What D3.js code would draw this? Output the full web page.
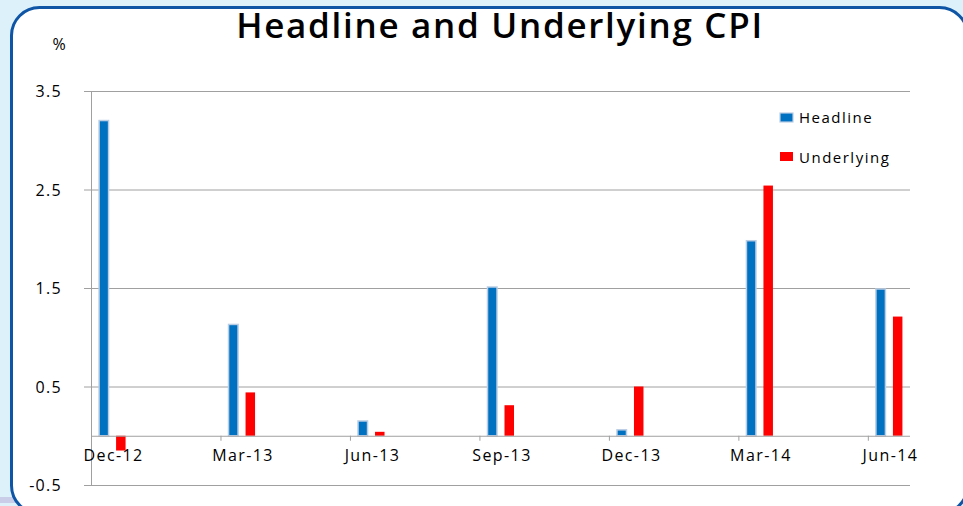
<!DOCTYPE html>
<meta charset="utf-8">
<title>Headline and Underlying CPI</title>
<script src="https://d3js.org/d3.v7.min.js"></script>
<style>
  body { margin: 0; background: #ddf1fa; }
  svg { display: block; }
  text { font-family: "Open Sans", sans-serif; fill: #000; }
  .title { font-size: 35px; font-weight: 600; letter-spacing: 1.7px; text-anchor: middle; }
  .ylab text { font-size: 16px; letter-spacing: 1.3px; }
  .xlab { font-size: 16px; letter-spacing: 1.4px; }
  .legend text { font-size: 15px; letter-spacing: 1.5px; }
</style>
<body>
<div id="chart"></div>
<script>
  // quarters on the axis, as month offsets from Dec-12
  var categories = ["Dec-12", "Mar-13", "Jun-13", "Sep-13", "Dec-13", "Mar-14", "Jun-14"];
  var monthIndex = [0, 3, 6, 9, 12, 15, 18];
  var headline = [3.20, 1.13, 0.15, 1.51, 0.06, 1.98, 1.49];
  var underlying = [-0.15, 0.44, 0.04, 0.31, 0.50, 2.54, 1.21];
  var yTicks = [3.5, 2.5, 1.5, 0.5, -0.5];
  var seriesNames = ["Headline", "Underlying"];
  var seriesColors = ["#0070c0", "#ff0000"];

  var W = 963, H = 506;
  var svg = d3.select("#chart").append("svg")
      .attr("width", W)
      .attr("height", H);

  // white panel with rounded blue frame
  svg.append("rect")
      .attr("x", 0).attr("y", 497).attr("width", 20).attr("height", 6)
      .attr("fill", "#c9cde8");
  svg.append("rect")
      .attr("x", 11.5).attr("y", 7.5)
      .attr("width", 956).attr("height", 506)
      .attr("rx", 28).attr("ry", 28)
      .attr("fill", "#fff")
      .attr("stroke", "#0e55a6")
      .attr("stroke-width", 3);

  var pLeft = 91, pRight = 910, pTop = 91, pBottom = 485;

  var x = d3.scaleLinear().domain([0, 19]).range([pLeft, 911]);
  var y = d3.scaleLinear().domain([-0.5, 3.5]).range([pBottom, pTop]);
  var monthW = x(1) - x(0);

  // gridlines + y labels
  var yAxis = svg.append("g").attr("class", "ylab")
      .attr("transform", "translate(" + pLeft + ",0)")
      .call(d3.axisLeft(y).tickValues(yTicks).tickFormat(function(d) { return d3.format(".1f")(d).replace("\u2212", "-"); })
        .tickSize(7).tickPadding(22));
  yAxis.select(".domain").remove();
  yAxis.selectAll(".tick line").attr("stroke", "#a0a0a0");
  yAxis.selectAll(".tick").append("line")
      .attr("x1", 0).attr("x2", pRight - pLeft)
      .attr("stroke", "#a0a0a0");
  yAxis.selectAll(".tick text").attr("fill", "#000").attr("dy", "0.35em");

  // vertical axis line
  svg.append("line")
      .attr("x1", pLeft + 0.5).attr("x2", pLeft + 0.5)
      .attr("y1", pTop).attr("y2", pBottom)
      .attr("stroke", "#a0a0a0");

  // bars
  var rows = categories.map(function(c, i) {
    return { cat: c, m: monthIndex[i], vals: [headline[i], underlying[i]] };
  });
  var barW = 9.5;
  var offs = [-13.5, 3.5];

  var groups = svg.append("g").selectAll("g")
      .data(rows).enter().append("g")
      .attr("transform", function(d) { return "translate(" + (x(d.m) + monthW / 2) + ",0)"; });

  groups.selectAll("rect")
      .data(function(d) { return d.vals.map(function(v, k) { return { v: v, k: k }; }); })
      .enter().append("rect")
      .attr("x", function(d) { return offs[d.k]; })
      .attr("width", barW)
      .attr("y", function(d) { return y(Math.max(0, d.v)); })
      .attr("height", function(d) { return Math.abs(y(d.v) - y(0)); })
      .attr("fill", function(d) { return seriesColors[d.k]; })
      .attr("stroke", function(d) { return d.k === 0 ? "#b9cde5" : "none"; })
      .attr("stroke-width", 1.5);

  // category axis on zero line
  var xAxis = svg.append("g")
      .attr("transform", "translate(0," + y(0) + ")")
      .call(d3.axisBottom(x).tickValues(monthIndex).tickFormat("").tickSize(5).tickSizeOuter(0));
  xAxis.select(".domain").attr("stroke", "#a0a0a0").attr("d", "M" + pLeft + ",0.5H" + pRight);
  xAxis.selectAll(".tick line").attr("stroke", "#a0a0a0");

  svg.append("g").selectAll("text")
      .data(rows).enter().append("text")
      .attr("class", "xlab")
      .attr("x", function(d) { return x(d.m) + monthW / 2 + 1; })
      .attr("y", 461)
      .attr("text-anchor", "middle")
      .text(function(d) { return d.cat; });

  // title and unit
  svg.append("text").attr("class", "title")
      .attr("x", 500).attr("y", 38)
      .text("Headline and Underlying CPI");
  svg.append("text")
      .attr("x", 59).attr("y", 50)
      .attr("text-anchor", "middle")
      .style("font-size", "16px")
      .text("%");

  // legend
  var legend = svg.append("g").attr("class", "legend")
      .selectAll("g").data(seriesNames).enter().append("g")
      .attr("transform", function(d, i) { return "translate(780," + (113 + i * 40) + ")"; });
  legend.append("rect")
      .attr("y", function(d, i) { return i === 0 ? 0 : -1; })
      .attr("width", 13).attr("height", 9)
      .attr("fill", function(d, i) { return seriesColors[i]; })
      .attr("stroke", function(d, i) { return i === 0 ? "#b9cde5" : "none"; })
      .attr("stroke-width", 1.2);
  legend.append("text")
      .attr("x", 19).attr("y", 9.5)
      .text(function(d) { return d; });
</script>
</body>
